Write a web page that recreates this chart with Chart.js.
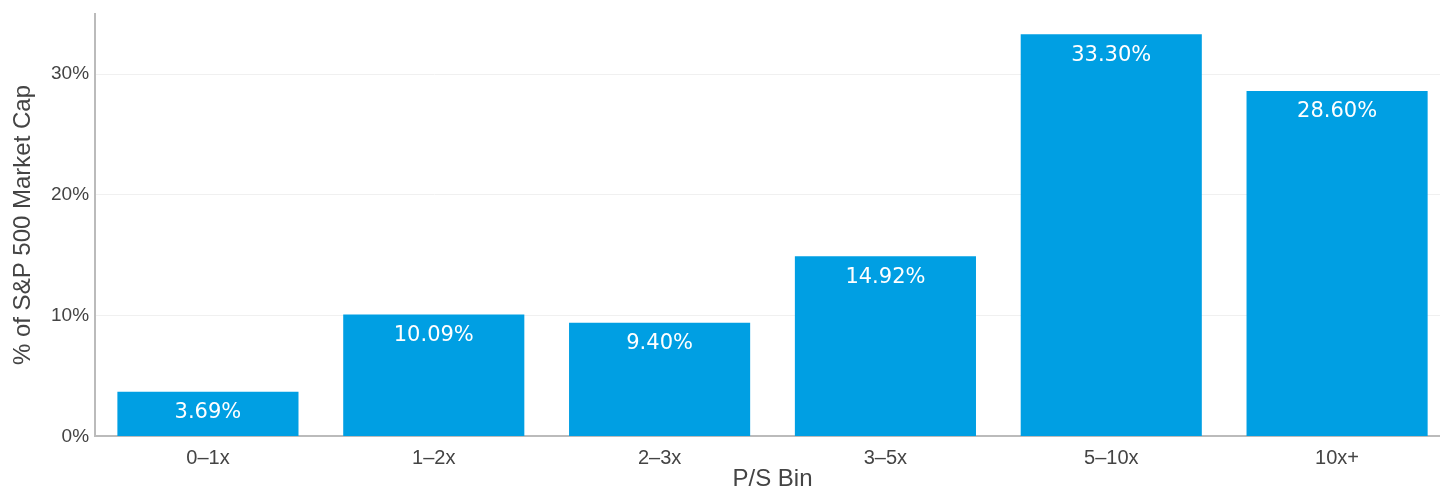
<!DOCTYPE html>
<html>
<head>
<meta charset="utf-8">
<script src="https://cdn.jsdelivr.net/npm/chart.js@4"></script>
<style>
  html, body { margin: 0; padding: 0; background: #fff; overflow: hidden; }
  #wrap { width: 1450px; height: 488px; }
</style>
</head>
<body>
<div id="wrap"><canvas id="myChart"></canvas></div>
<script>
// data
const bins = ['0–1x', '1–2x', '2–3x', '3–5x', '5–10x', '10x+'];
const shares = [3.69, 10.09, 9.40, 14.92, 33.30, 28.60];
const yTicks = [0, 10, 20, 30];

// value labels inside the top of each bar
const barLabels = {
    id: 'barLabels',
    afterDatasetsDraw(chart) {
        const ctx = chart.ctx;
        const meta = chart.getDatasetMeta(0);
        ctx.save();
        ctx.fillStyle = '#ffffff';
        ctx.font = '21px "DejaVu Sans", Verdana, sans-serif';
        ctx.textAlign = 'center';
        ctx.textBaseline = 'middle';
        meta.data.forEach(function (bar, i) {
            ctx.fillText(shares[i].toFixed(2) + '%', bar.x, bar.y + 21);
        });
        ctx.restore();
    }
};

const ctx = document.getElementById('myChart').getContext('2d');
const chart = new Chart(ctx, {
    type: 'bar',
    data: {
        labels: bins,
        datasets: [{
            data: shares,
            backgroundColor: '#009fe3',
            barPercentage: 0.802,
            categoryPercentage: 1.0
        }]
    },
    options: {
        responsive: true,
        maintainAspectRatio: false,
        animation: false,
        layout: { padding: { top: 2, right: 0, bottom: -2, left: 11 } },
        plugins: { legend: { display: false }, tooltip: { enabled: false } },
        scales: {
            x: {
                grid: { display: false, drawTicks: false },
                border: { color: '#bbbbbb', width: 2 },
                ticks: {
                    color: '#444',
                    font: { family: '"Liberation Sans", Arial, sans-serif', size: 20, lineHeight: 1 },
                    padding: 12
                },
                title: {
                    display: true,
                    text: 'P/S Bin',
                    color: '#444',
                    font: { family: '"Liberation Sans", Arial, sans-serif', size: 24, lineHeight: 0.9 },
                    padding: { top: -12, bottom: 0 }
                }
            },
            y: {
                min: 0,
                max: 35,
                afterBuildTicks: function (scale) {
                    scale.ticks = yTicks.map(function (v) { return { value: v }; });
                },
                grid: {
                    color: function (c) { return c.tick && c.tick.value === 0 ? 'rgba(0,0,0,0)' : '#f0f0f0'; },
                    drawTicks: false
                },
                border: { color: '#bbbbbb', width: 2 },
                ticks: {
                    color: '#444',
                    font: { family: '"Liberation Sans", Arial, sans-serif', size: 19, lineHeight: 0.8 },
                    padding: 6,
                    callback: function (v) { return v + '%'; }
                },
                title: {
                    display: true,
                    text: '% of S&P 500 Market Cap',
                    color: '#444',
                    font: { family: '"Liberation Sans", Arial, sans-serif', size: 24, lineHeight: 1 },
                    padding: { top: 0, bottom: 10 }
                }
            }
        }
    },
    plugins: [barLabels]
});
</script>
</body>
</html>
